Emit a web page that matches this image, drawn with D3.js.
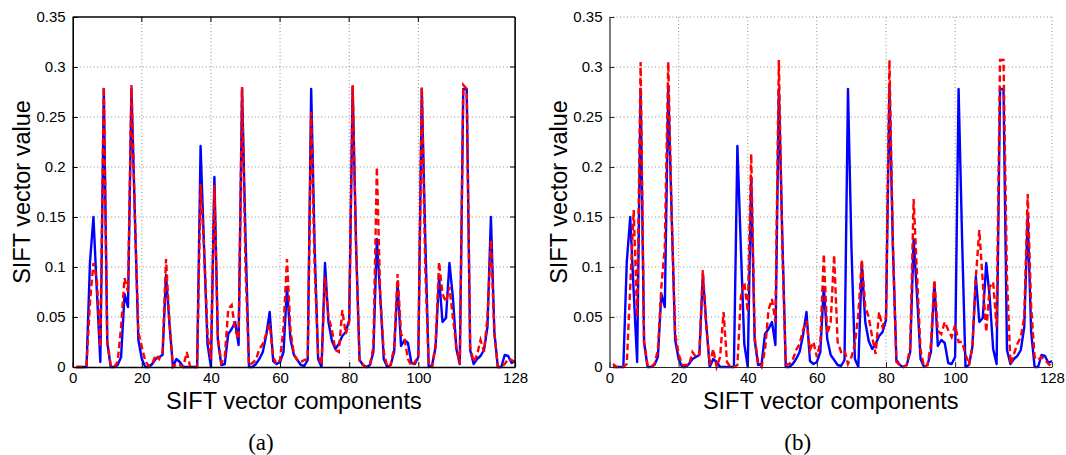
<!DOCTYPE html>
<html>
<head>
<meta charset="utf-8">
<script src="https://cdnjs.cloudflare.com/ajax/libs/d3/7.8.5/d3.min.js"></script>
<style>
  body { margin: 0; background: #fff; }
  svg { display: block; }
</style>
</head>
<body>
<div class="figure"></div>
<script>
// SIFT descriptor, 128 components (index 1..128)
const blueValues = [
  0, 0, 0, 0, 0.105, 0.15, 0.075, 0.005, 0.278, 0.025,
  0, 0, 0.002, 0.01, 0.073, 0.06, 0.278, 0.15, 0.027, 0.008,
  0, 0, 0.003, 0.008, 0.01, 0.012, 0.092, 0.043, 0, 0.008,
  0.005, 0, 0, 0, 0, 0, 0.221, 0.12, 0.023, 0,
  0.19, 0.027, 0.002, 0.003, 0.033, 0.038, 0.045, 0.022, 0.278, 0.13,
  0, 0, 0.003, 0.008, 0.015, 0.032, 0.055, 0.006, 0.003, 0.005,
  0.015, 0.08, 0.028, 0.012, 0.007, 0.002, 0.001, 0.007, 0.278, 0.12,
  0.008, 0, 0.104, 0.045, 0.026, 0.018, 0.023, 0.031, 0.035, 0.047,
  0.28, 0.12, 0.007, 0.002, 0, 0.002, 0.015, 0.128, 0.07, 0.008,
  0, 0.002, 0.015, 0.084, 0.021, 0.027, 0.024, 0.004, 0.003, 0.01,
  0.278, 0.13, 0, 0.002, 0.02, 0.09, 0.045, 0.049, 0.104, 0.07,
  0.018, 0.003, 0.278, 0.278, 0.017, 0.003, 0.008, 0.011, 0.017, 0.04,
  0.15, 0.035, 0, 0, 0.012, 0.011, 0.004, 0.006
];

const redValuesA = [
  0, 0, 0, 0.002, 0.065, 0.104, 0.087, 0.02, 0.28, 0.025,
  0.002, 0, 0.005, 0.04, 0.089, 0.075, 0.282, 0.15, 0.035, 0.02,
  0.006, 0.001, 0.003, 0.012, 0.008, 0.015, 0.108, 0.045, 0, 0.003,
  0.002, 0, 0.015, 0, 0, 0, 0.183, 0.12, 0.033, 0.008,
  0.182, 0.03, 0.004, 0.01, 0.058, 0.062, 0.037, 0.028, 0.28, 0.1,
  0.002, 0.004, 0.007, 0.018, 0.023, 0.033, 0.043, 0.01, 0.003, 0.007,
  0.04, 0.108, 0.037, 0.013, 0.007, 0.005, 0.007, 0.008, 0.255, 0.1,
  0.013, 0.002, 0.09, 0.05, 0.037, 0.017, 0.015, 0.057, 0.033, 0.045,
  0.282, 0.12, 0.005, 0.002, 0, 0.002, 0.02, 0.2, 0.07, 0.015,
  0, 0.002, 0.02, 0.093, 0.033, 0.028, 0.008, 0.001, 0.005, 0.01,
  0.28, 0.1, 0.001, 0, 0.023, 0.105, 0.073, 0.065, 0.08, 0.05,
  0.02, 0.003, 0.282, 0.278, 0.02, 0.005, 0.012, 0.027, 0.015, 0.05,
  0.127, 0.033, 0, 0, 0.003, 0.008, 0.007, 0.005
];

const redValuesB = [
  0.003, 0, 0, 0, 0.003, 0.08, 0.157, 0.05, 0.305, 0.025,
  0.002, 0, 0.003, 0.017, 0.08, 0.12, 0.305, 0.15, 0.033, 0.013,
  0.002, 0.002, 0.002, 0.015, 0.01, 0.013, 0.097, 0.04, 0.002, 0.018,
  0, 0.01, 0.055, 0.005, 0, 0, 0.002, 0.07, 0.085, 0.055,
  0.213, 0.03, 0.004, 0, 0.017, 0.057, 0.068, 0.045, 0.307, 0.12,
  0.002, 0.003, 0.007, 0.017, 0.023, 0.037, 0.046, 0.017, 0.025, 0.01,
  0.025, 0.113, 0.033, 0.045, 0.112, 0.025, 0.015, 0.017, 0.003, 0.01,
  0.023, 0.053, 0.107, 0.06, 0.05, 0.03, 0.013, 0.055, 0.04, 0.05,
  0.307, 0.12, 0.005, 0.002, 0, 0.002, 0.02, 0.168, 0.09, 0.017,
  0, 0.002, 0.023, 0.087, 0.036, 0.033, 0.045, 0.037, 0.03, 0.042,
  0.025, 0.025, 0.013, 0.002, 0.02, 0.09, 0.137, 0.085, 0.035, 0.08,
  0.085, 0.04, 0.307, 0.307, 0.09, 0.003, 0.013, 0.023, 0.03, 0.05,
  0.173, 0.06, 0.01, 0.007, 0.01, 0.007, 0.003, 0
];

const xTicks = [0, 20, 40, 60, 80, 100, 128];
const yTicks = [0, 0.05, 0.1, 0.15, 0.2, 0.25, 0.3, 0.35];
const panelNames = ['(a)', '(b)'];

const width = 1066;
const height = 455;
const plotTop = 17, plotBottom = 367, plotW = 442.4;
const font = "'Liberation Sans', Arial, Helvetica, sans-serif";

const svg = d3.select('.figure')
  .append('svg')
  .attr('width', width)
  .attr('height', height);

function drawPanel(left, redValues, name, boxed) {
  const x = d3.scaleLinear().domain([0, 128]).range([left, left + plotW]);
  const y = d3.scaleLinear().domain([0, 0.35]).range([plotBottom, plotTop]);
  const g = svg.append('g');

  // grid
  g.selectAll('.gx')
    .data(xTicks.filter(d => boxed ? (d > 0 && d < 128) : d > 0))
    .enter().append('line')
    .attr('x1', d => x(d)).attr('x2', d => x(d))
    .attr('y1', plotTop).attr('y2', plotBottom)
    .attr('stroke', '#8c8c8c').attr('stroke-width', 1)
    .attr('stroke-dasharray', '1,2.5');
  g.selectAll('.gy')
    .data(yTicks.filter(d => boxed ? (d > 0 && d < 0.35) : d > 0))
    .enter().append('line')
    .attr('x1', left).attr('x2', left + plotW)
    .attr('y1', d => y(d)).attr('y2', d => y(d))
    .attr('stroke', '#8c8c8c').attr('stroke-width', 1)
    .attr('stroke-dasharray', '1,2.5');

  const line = d3.line()
    .x((d, i) => x(i + 1))
    .y(d => y(d));

  g.append('path')
    .datum(blueValues)
    .attr('d', line)
    .attr('fill', 'none')
    .attr('stroke', '#0000ff')
    .attr('stroke-width', 2.4)
    .attr('stroke-linejoin', 'round');

  g.append('path')
    .datum(redValues)
    .attr('d', line)
    .attr('fill', 'none')
    .attr('stroke', '#ff0000')
    .attr('stroke-width', 2.4)
    .attr('stroke-dasharray', '6.5,3.5');

  // axes
  const axisColor = boxed ? '#000' : '#262626';
  const xAxis = d3.axisBottom(x).tickValues(xTicks).tickSizeInner(-5).tickSizeOuter(0)
    .tickPadding(5).tickFormat(d3.format('d'));
  const yAxis = d3.axisLeft(y).tickValues(yTicks).tickSizeInner(-5).tickSizeOuter(0)
    .tickPadding(7).tickFormat(d => d === 0 ? '0' : d3.format('')(d));

  const gx = g.append('g').attr('transform', `translate(0,${plotBottom})`).call(xAxis);
  const gy = g.append('g').attr('transform', `translate(${left},0)`).call(yAxis);
  [gx, gy].forEach(a => {
    a.select('.domain').attr('stroke', axisColor).attr('stroke-width', boxed ? 1.6 : 1.2);
    a.selectAll('.tick line').attr('stroke', axisColor);
    a.selectAll('.tick text').attr('fill', '#000')
      .style('font-family', font).style('font-size', '15px');
  });

  if (boxed) {
    g.append('line').attr('x1', left).attr('x2', left + plotW)
      .attr('y1', plotTop).attr('y2', plotTop).attr('stroke', '#000').attr('stroke-width', 1.6);
    g.append('line').attr('x1', left + plotW).attr('x2', left + plotW)
      .attr('y1', plotTop).attr('y2', plotBottom).attr('stroke', '#000').attr('stroke-width', 1.6);
    // inward ticks on top and right
    g.selectAll('.tt').data(xTicks.slice(1, -1)).enter().append('line')
      .attr('x1', d => x(d)).attr('x2', d => x(d)).attr('y1', plotTop).attr('y2', plotTop + 5)
      .attr('stroke', '#000');
    g.selectAll('.tr').data(yTicks.slice(1, -1)).enter().append('line')
      .attr('x1', left + plotW).attr('x2', left + plotW - 5).attr('y1', d => y(d)).attr('y2', d => y(d))
      .attr('stroke', '#000');
  }

  // labels
  g.append('text')
    .attr('x', left + plotW / 2).attr('y', 408.5)
    .attr('text-anchor', 'middle')
    .style('font-family', font).style('font-size', '23.5px')
    .text('SIFT vector components');

  g.append('text')
    .attr('transform', `translate(${left - 43},${(plotTop + plotBottom) / 2}) rotate(-90)`)
    .attr('text-anchor', 'middle')
    .style('font-family', font).style('font-size', '23.5px')
    .text('SIFT vector value');

  g.append('text')
    .attr('x', left + plotW / 2 - 33).attr('y', 450)
    .attr('text-anchor', 'middle')
    .style('font-family', "'Liberation Serif', 'Times New Roman', serif").style('font-size', '23px')
    .text(name);
}

drawPanel(72.7, redValuesA, panelNames[0], true);
drawPanel(609.5, redValuesB, panelNames[1], false);
</script>
</body>
</html>
